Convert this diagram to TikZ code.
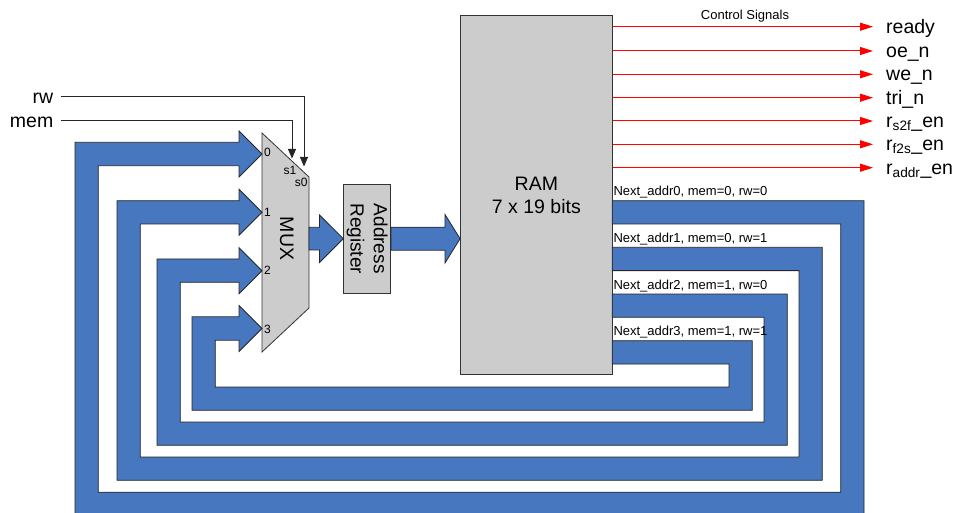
\documentclass[tikz,border=0pt]{standalone}
\usepackage{fontspec}
\setmainfont{Liberation Sans}
\usetikzlibrary{arrows.meta}
\definecolor{busblue}{RGB}{71,119,190}
\definecolor{boxgray}{RGB}{204,204,204}
\tikzset{
  bus/.style={fill=busblue,draw=black!85,line width=.8pt,line join=miter},
  box/.style={draw=black!80,fill=boxgray,line width=.8pt,inner sep=0pt},
  ctrl/.style={red,line width=1pt,-{Triangle[length=13pt,width=8pt]}},
  sel/.style={black!85,line width=.8pt,-{Triangle[length=9.5pt,width=8pt]}},
  biglabel/.style={font=\fontsize{19.5}{23}\selectfont,inner sep=0pt,text height=16pt,text depth=3pt},
  note/.style={font=\fontsize{13}{15}\selectfont,inner sep=0pt},
  pin/.style={font=\fontsize{12}{14}\selectfont,inner sep=0pt},
}
\begin{document}
\begin{tikzpicture}[x=1pt,y=-1pt]
	\useasboundingbox (0,0) rectangle (956,513);
	
	%RAM
	\node[box,minimum width=151.8pt,minimum height=358.8pt,align=center,font=\fontsize{19.5}{23.4}\selectfont] at (536.4,195.1) (ram) {RAM\\7 x 19 bits};
	
	%MUX
	\draw[box] (262,133)--(309,177)--(309,308)--(262,352)--cycle;
	\node[rotate=-90,inner sep=0pt,font=\fontsize{19.5}{23}\selectfont] at (286.7,238.5) (mux) {MUX};
	\coordinate (in0) at (262,154);
	\coordinate (in1) at (262,212.3);
	\coordinate (in2) at (262,270.7);
	\coordinate (in3) at (262,328.5);
	\node[pin,anchor=west] at (264,152.7) (p0) {0};
	\node[pin,anchor=west] at (264,212.7) (p1) {1};
	\node[pin,anchor=west] at (264,270.7) (p2) {2};
	\node[pin,anchor=west] at (264,329.3) (p3) {3};
	\node[pin] at (290,170) (s1) {s1};
	\node[pin] at (301.2,182) (s0) {s0};
	
	%select lines
	\node[biglabel,anchor=east] at (53.5,96.7) (rw) {rw};
	\node[biglabel,anchor=east] at (53.5,120.7) (mem) {mem};
	\coordinate (sel0) at (304,166.5);
	\coordinate (sel1) at (292,158.5);
	\draw[sel] ([xshift=7.5pt]rw.east) -| (sel0);
	\draw[sel] ([xshift=7.5pt]mem.east) -| (sel1);
	
	%Address register
	\node[box,rotate=-90,minimum width=109.3pt,minimum height=46.9pt,align=center,font=\fontsize{19}{23.3}\selectfont] at (367.2,238.7) (areg) {Address\\Register};
	
	%buses into and out of the register
	\draw[bus] (309,227.3)--(319.5,227.3)--(319.5,215)--(areg.south)--(319.5,262.5)--(319.5,250)--(309,250)--cycle;
	\draw[bus] ([yshift=11.5pt]areg.north)--(445,227.2)--(445,214.5)--(ram.west |- areg.north)--(445,263)--(445,250.2)--([yshift=-11.5pt]areg.north)--cycle;
	
	%next address loops
	\draw[bus] (612.3,200.7)--(864,200.7)--(864,515.5)--(75,515.5)--(75,142.3)--(239,142.3)--(239,131)--(in0)--(239,177)--(239,165.7)--(98.3,165.7)--(98.3,492.2)--(840.7,492.2)--(840.7,224)--(612.3,224)--cycle;
	\draw[bus] (612.3,247.3)--(822.3,247.3)--(822.3,480.3)--(117,480.3)--(117,200.7)--(239,200.7)--(239,189.3)--(in1)--(239,235.3)--(239,224)--(140.3,224)--(140.3,457)--(799,457)--(799,270.6)--(612.3,270.6)--cycle;
	\draw[bus] (612.3,294)--(787.3,294)--(787.3,445.3)--(157,445.3)--(157,259)--(239,259)--(239,247.7)--(in2)--(239,293.7)--(239,282.3)--(180.3,282.3)--(180.3,422)--(764,422)--(764,317.3)--(612.3,317.3)--cycle;
	\draw[bus] (612.3,340.7)--(752.3,340.7)--(752.3,410.3)--(192,410.3)--(192,316.8)--(239,316.8)--(239,305.5)--(in3)--(239,351.5)--(239,340.2)--(215.3,340.2)--(215.3,387)--(729,387)--(729,364)--(612.3,364)--cycle;
	\node[note,anchor=base west] at (613.3,196) (na0) {Next\_addr0, mem=0, rw=0};
	\node[note,anchor=base west] at (613.3,242.7) (na1) {Next\_addr1, mem=0, rw=1};
	\node[note,anchor=base west] at (613.3,289.3) (na2) {Next\_addr2, mem=1, rw=0};
	\node[note,anchor=base west] at (613.3,335.3) (na3) {Next\_addr3, mem=1, rw=1};
	
	%control signals
	\node[note,anchor=base] at (745,19.3) (ctitle) {Control Signals};
	\node[biglabel,anchor=west] at (886,26.7) (ready) {ready};
	\node[biglabel,anchor=west] at (886,51) (oen) {oe\_n};
	\node[biglabel,anchor=west] at (886,74.3) (wen) {we\_n};
	\node[biglabel,anchor=west] at (886,97.7) (trin) {tri\_n};
	\node[biglabel,anchor=west] at (886,121) (rsf) {r\textsubscript{s2f}\_en};
	\node[biglabel,anchor=west] at (886,144.3) (rfs) {r\textsubscript{f2s}\_en};
	\node[biglabel,anchor=west] at (886,167.7) (raddr) {r\textsubscript{addr}\_en};
	\draw[ctrl] (ram.east |- ready.west) -- ([xshift=-13pt]ready.west);
	\draw[ctrl] (ram.east |- oen.west) -- ([xshift=-13pt]oen.west);
	\draw[ctrl] (ram.east |- wen.west) -- ([xshift=-13pt]wen.west);
	\draw[ctrl] (ram.east |- trin.west) -- ([xshift=-13pt]trin.west);
	\draw[ctrl] (ram.east |- rsf.west) -- ([xshift=-13pt]rsf.west);
	\draw[ctrl] (ram.east |- rfs.west) -- ([xshift=-13pt]rfs.west);
	\draw[ctrl] (ram.east |- raddr.west) -- ([xshift=-13pt]raddr.west);

\end{tikzpicture}
\end{document}
